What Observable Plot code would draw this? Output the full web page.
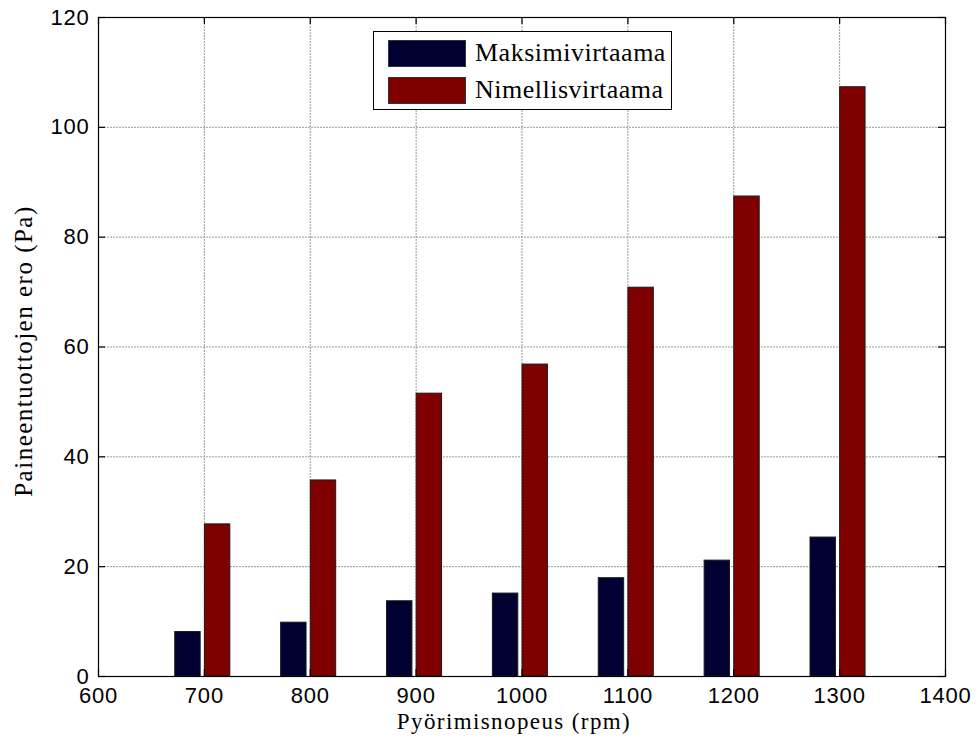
<!DOCTYPE html>
<html>
<head>
<meta charset="utf-8">
<script src="https://cdn.jsdelivr.net/npm/d3@7"></script>
<script src="https://cdn.jsdelivr.net/npm/@observablehq/plot@0.6"></script>
<style>
  html, body { margin: 0; padding: 0; background: #fff; }
  #wrap { position: relative; width: 979px; height: 753px; }
  #legend {
    position: absolute; left: 373px; top: 31px; width: 299px; height: 79px;
    border: 1.5px solid #000; background: #fff; box-sizing: border-box;
    font-family: "Liberation Serif", "Times New Roman", Times, serif; font-size: 26px; color: #000;
  }
  .item { position: absolute; left: 14px; display: flex; align-items: center; }
  .sw { width: 78px; height: 27px; border: 1px solid #333; box-sizing: border-box; margin-right: 9px; }
</style>
</head>
<body>
<div id="wrap"></div>
<script>
const rpm = [700, 800, 900, 1000, 1100, 1200, 1300];
const maksimivirtaama = [8.1, 9.8, 13.7, 15.1, 17.9, 21.1, 25.3];
const nimellisvirtaama = [27.7, 35.7, 51.5, 56.8, 70.8, 87.4, 107.3];
const seriesNames = ["Maksimivirtaama", "Nimellisvirtaama"];
const seriesColors = ["#000033", "#800000"];
const xTicks = [600, 700, 800, 900, 1000, 1100, 1200, 1300, 1400];
const yTicks = [0, 20, 40, 60, 80, 100, 120];
const xLabel = "Pyörimisnopeus (rpm)";
const yLabel = "Paineentuottojen ero (Pa)";

const barW = 24;
const offsets = [-15.5, 12.5];
const data = [];
rpm.forEach((r, i) => {
  data.push({rpm: r, s: 0, v: maksimivirtaama[i]});
  data.push({rpm: r, s: 1, v: nimellisvirtaama[i]});
});

const W = 979, H = 753;
const mL = 98, mR = 34, mT = 17, mB = 77;
const pxX = (W - mL - mR) / 800;
const pxY = (H - mT - mB) / 120;
const tickLenX = 7 / pxX, tickLenY = 7 / pxY;

const chart = Plot.plot({
  width: W, height: H,
  marginLeft: mL, marginRight: mR, marginTop: mT, marginBottom: mB,
  style: {fontFamily: "'Liberation Sans', Arial, sans-serif", fontSize: "22px", color: "#000", background: "#fff"},
  x: {domain: [600, 1400], axis: null},
  y: {domain: [0, 120], axis: null},
  marks: [
    Plot.ruleX(xTicks.slice(1, -1), {x: d => d, y1: 0, y2: 120, stroke: "#9a9a9a", strokeWidth: 1, strokeDasharray: "2,1"}),
    Plot.ruleY(yTicks.slice(1, -1), {y: d => d, x1: 600, x2: 1400, stroke: "#9a9a9a", strokeWidth: 1, strokeDasharray: "2,1"}),
    Plot.rectY(data, {
      x1: d => d.rpm + offsets[d.s] - barW / 2,
      x2: d => d.rpm + offsets[d.s] + barW / 2,
      y1: 0, y2: "v",
      fill: d => seriesColors[d.s],
      stroke: "#1a1a1a", strokeWidth: 1
    }),
    Plot.frame({stroke: "#000", strokeWidth: 1.2}),
    Plot.ruleY(yTicks, {y: d => d, x1: 600, x2: 600 + tickLenX, stroke: "#000", strokeWidth: 1.2}),
    Plot.ruleY(yTicks, {y: d => d, x1: 1400 - tickLenX, x2: 1400, stroke: "#000", strokeWidth: 1.2}),
    Plot.ruleX(xTicks, {x: d => d, y1: 0, y2: tickLenY, stroke: "#000", strokeWidth: 1.2}),
    Plot.ruleX(xTicks, {x: d => d, y1: 120 - tickLenY, y2: 120, stroke: "#000", strokeWidth: 1.2}),
    Plot.axisX({ticks: xTicks, tickSize: 0, tickPadding: 11, label: null, fontSize: 22, tickFormat: d => String(d), className: "sans"}),
    Plot.axisY({ticks: yTicks, tickSize: 0, tickPadding: 9, label: null, fontSize: 22, tickFormat: d => String(d), className: "sans"}),
    Plot.text([xLabel], {frameAnchor: "bottom", textAnchor: "middle", dy: 52, dx: -8, fontSize: 23, lineAnchor: "bottom", className: "serifx"}),
    Plot.text([yLabel], {frameAnchor: "left", textAnchor: "middle", lineAnchor: "middle", dx: -75, dy: 4, rotate: -90, fontSize: 25, className: "serify"})
  ]
});
chart.querySelectorAll(".serifx text, text.serifx").forEach(t => {
  t.style.fontFamily = "'Liberation Serif', 'Times New Roman', Times, serif";
  t.style.letterSpacing = "1.4px";
});
chart.querySelectorAll(".serify text, text.serify").forEach(t => {
  t.style.fontFamily = "'Liberation Serif', 'Times New Roman', Times, serif";
  t.style.letterSpacing = "1.5px";
});
chart.querySelectorAll(".sans text").forEach(t => {
  t.style.fontFamily = "'Liberation Sans', Arial, sans-serif";
  t.style.letterSpacing = "0.8px";
});
const wrap = document.getElementById("wrap");
wrap.appendChild(chart);

const legend = document.createElement("div");
legend.id = "legend";
seriesNames.forEach((n, i) => {
  const it = document.createElement("div");
  it.className = "item";
  it.style.top = (i === 0 ? 6 : 43) + "px";
  const sw = document.createElement("div");
  sw.className = "sw";
  sw.style.background = seriesColors[i];
  const tx = document.createElement("span");
  tx.textContent = n;
  tx.style.letterSpacing = "0.5px";
  it.appendChild(sw); it.appendChild(tx);
  legend.appendChild(it);
});
wrap.appendChild(legend);
</script>
</body>
</html>
